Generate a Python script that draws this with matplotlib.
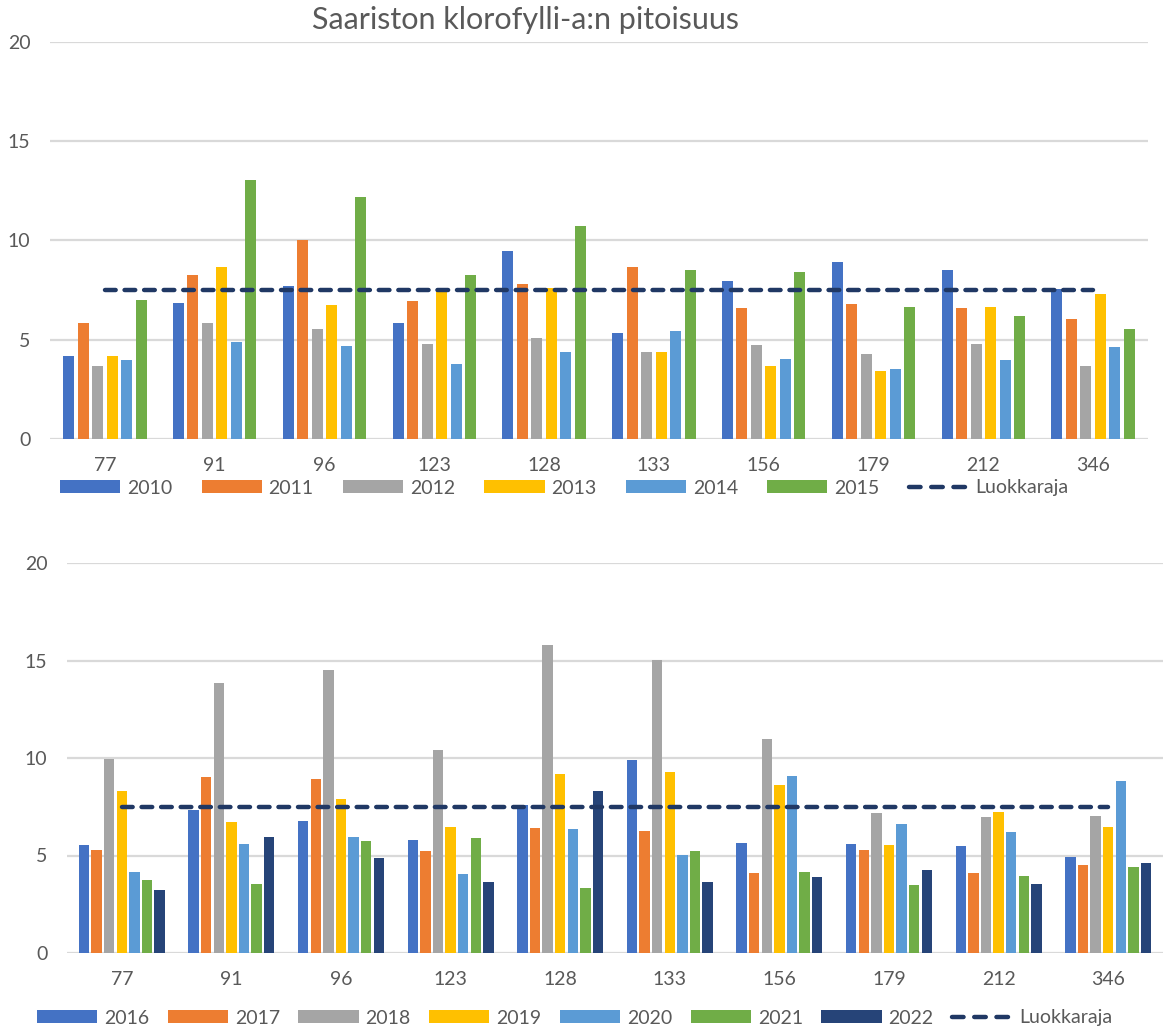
import numpy as np
import matplotlib
matplotlib.use('Agg')
import matplotlib.pyplot as plt
from matplotlib.lines import Line2D

plt.rcParams['font.family'] = ['Lato', 'DejaVu Sans']

sites = ['77', '91', '96', '123', '128', '133', '156', '179', '212', '346']
limit = 7.5

# 2010-2015
years_a = ['2010', '2011', '2012', '2013', '2014', '2015']
v2010 = [4.2, 6.87, 7.7, 5.83, 9.49, 5.33, 7.96, 8.94, 8.5, 7.58]
v2011 = [5.83, 8.25, 10.0, 6.94, 7.8, 8.67, 6.59, 6.82, 6.59, 6.07]
v2012 = [3.7, 5.83, 5.55, 4.79, 5.08, 4.39, 4.73, 4.27, 4.79, 3.69]
v2013 = [4.16, 8.67, 6.76, 7.46, 7.6, 4.39, 3.69, 3.42, 6.66, 7.28]
v2014 = [3.99, 4.91, 4.68, 3.76, 4.39, 5.43, 4.04, 3.52, 3.99, 4.63]
v2015 = [6.99, 13.06, 12.19, 8.25, 10.75, 8.5, 8.43, 6.66, 6.19, 5.53]

# 2016-2022
years_b = ['2016', '2017', '2018', '2019', '2020', '2021', '2022']
v2016 = [5.56, 7.32, 6.77, 5.78, 7.6, 9.9, 5.64, 5.59, 5.47, 4.94]
v2017 = [5.3, 9.03, 8.91, 5.25, 6.43, 6.24, 4.12, 5.3, 4.12, 4.53]
v2018 = [9.97, 13.85, 14.5, 10.43, 15.79, 15.04, 10.96, 7.18, 6.96, 7.01]
v2019 = [8.32, 6.72, 7.91, 6.48, 9.2, 9.3, 8.6, 5.54, 7.23, 6.48]
v2020 = [4.14, 5.61, 5.97, 4.07, 6.36, 5.03, 9.08, 6.6, 6.19, 8.84]
v2021 = [3.76, 3.54, 5.73, 5.9, 3.35, 5.23, 4.17, 3.47, 3.93, 4.41]
v2022 = [3.25, 5.97, 4.89, 3.66, 8.31, 3.66, 3.88, 4.24, 3.54, 4.6]

colors = ['#4472C4', '#ED7D31', '#A5A5A5', '#FFC000', '#5B9BD5', '#70AD47', '#264478']
line_col = '#203864'
txt = '#595959'
grid = '#D9D9D9'

W, H = 1165, 1031
fig = plt.figure(figsize=(W / 100, H / 100), dpi=100)


def panel(rect, years, series, slot, bw, leg_y, leg_x, colspace):
    ax = fig.add_axes(rect)
    x = np.arange(len(sites))
    n = len(series)
    handles = []
    for i, vals in enumerate(series):
        off = (i - (n - 1) / 2) * slot
        b = ax.bar(x + off, vals, width=bw, color=colors[i], label=years[i], zorder=2)
        handles.append(b)
    ax.plot(x, [limit] * len(sites), color=line_col, lw=3.2,
            linestyle=(0, (2.4, 2.0)), dash_capstyle='round', zorder=3)
    # legend proxy so the sample shows three whole dashes
    handles.append(Line2D([], [], color=line_col, lw=3.2, linestyle=(0, (2.6, 2.4)),
                          dash_capstyle='round', label='Luokkaraja'))
    ax.set_xlim(-0.5, len(sites) - 0.5)
    ax.set_ylim(0, 20)
    ax.set_yticks([0, 5, 10, 15, 20])
    ax.grid(axis='y', color=grid, lw=1.6, zorder=0)
    ax.set_axisbelow(True)
    for s in ax.spines.values():
        s.set_visible(False)
    ax.set_xticks(x)
    ax.set_xticklabels(sites)
    ax.tick_params(axis='both', length=0, labelsize=14, labelcolor=txt)
    ax.tick_params(axis='y', pad=14)
    ax.tick_params(axis='x', pad=13)
    fig.legend(handles=handles, loc='center left', bbox_to_anchor=(leg_x, leg_y),
               ncol=len(handles), frameon=False, fontsize=14, labelcolor=txt,
               handlelength=3.1, handleheight=0.65, handletextpad=0.35,
               columnspacing=colspace, borderpad=0, borderaxespad=0)
    return ax


panel([50 / W, 1 - 439 / H, 1098 / W, 397 / H], years_a,
      [v2010, v2011, v2012, v2013, v2014, v2015],
      0.132, 0.10, 1 - 488 / H, 60 / W, 1.5)

panel([67 / W, 1 - 953 / H, 1096 / W, 390 / H], years_b,
      [v2016, v2017, v2018, v2019, v2020, v2021, v2022],
      0.1148, 0.095, 1 - 1018 / H, 37 / W, 0.95)

fig.text(526 / W, 1 - 20 / H, 'Saariston klorofylli-a:n pitoisuus',
         ha='center', va='center', fontsize=22, color=txt)

plt.savefig('out.png', dpi=100)
